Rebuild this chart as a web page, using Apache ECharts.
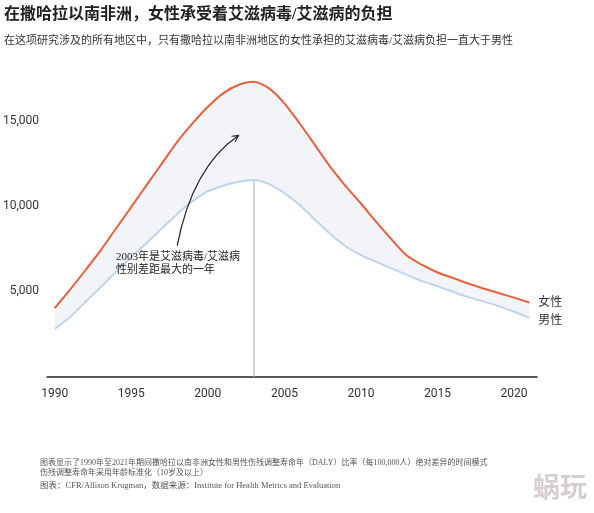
<!DOCTYPE html>
<html>
<head>
<meta charset="utf-8">
<script src="https://cdn.jsdelivr.net/npm/echarts@6/dist/echarts.min.js"></script>
<style>
html,body{margin:0;padding:0;background:#fff;}
#c{width:594px;height:513px;}
</style>
</head>
<body>
<div id="c"></div>
<script>
const years = ['1990','1991','1992','1993','1994','1995','1996','1997','1998','1999','2000','2001','2002','2003','2004','2005','2006','2007','2008','2009','2010','2011','2012','2013','2014','2015','2016','2017','2018','2019','2020','2021'];
const female = [4010,5100,6240,7410,8690,9960,11240,12510,13780,14860,15840,16630,17120,17310,16920,16040,14860,13590,12310,11180,10160,9080,8050,7100,6550,6110,5790,5460,5170,4900,4630,4350];
const male = [2800,3490,4370,5250,6140,7020,7840,8690,9550,10300,10880,11200,11440,11540,11300,10770,10070,9200,8370,7650,7130,6730,6350,5970,5600,5300,4980,4660,4400,4130,3800,3440];
const yTicks = [5000, 10000, 15000];
const peakYear = '2003';

const serif = "'Liberation Serif','DejaVu Serif','Noto Sans CJK SC',serif";
const sans = "Roboto,'Liberation Sans','Noto Sans CJK SC',sans-serif";
const gap = female.map((v, i) => v - male[i]);
const peakIdx = years.indexOf(peakYear);
const sm = 0.25;

const chart = echarts.init(document.getElementById('c'), null, {renderer: 'canvas'});
chart.setOption({
  animation: false,
  backgroundColor: '#fff',
  title: [
    {text: '在撒哈拉以南非洲，女性承受着艾滋病毒/艾滋病的负担', left: 4, top: 7, padding: 0,
     textStyle: {fontFamily: serif, fontSize: 16, lineHeight: 16, fontWeight: 'bold', color: '#222'}},
    {text: '在这项研究涉及的所有地区中，只有撒哈拉以南非洲地区的女性承担的艾滋病毒/艾滋病负担一直大于男性', left: 4, top: 36, padding: 0,
     textStyle: {fontFamily: serif, fontSize: 11, lineHeight: 11, fontWeight: 'normal', color: '#333'}},
    {text: '图表显示了1990年至2021年期间撒哈拉以南非洲女性和男性伤残调整寿命年（DALY）比率（每100,000人）绝对差异的时间模式\n伤残调整寿命年采用年龄标准化（10岁及以上）', left: 40, top: 457.5, padding: 0,
     textStyle: {fontFamily: serif, fontSize: 8, lineHeight: 10, fontWeight: 'normal', color: '#555'}},
    {text: '图表：CFR/Allison Krugman，数据来源：Institute for Health Metrics and Evaluation', left: 40, top: 481.5, padding: 0,
     textStyle: {fontFamily: serif, fontSize: 8.5, lineHeight: 9, fontWeight: 'normal', color: '#555'}},
    {text: '蜗玩', right: 7, top: 477, padding: 0,
     textStyle: {fontFamily: sans, fontSize: 27, lineHeight: 27, fontWeight: 'bold', color: '#d6cfcf'}}
  ],
  grid: {left: 47, right: 57, top: 70, bottom: 136.5, containLabel: false},
  xAxis: {
    type: 'category', data: years, boundaryGap: true,
    axisLine: {show: true, lineStyle: {color: '#222', width: 1.5}},
    axisTick: {show: false},
    axisLabel: {interval: (i, v) => Number(v) % 5 === 0, margin: 11,
      fontFamily: sans, fontSize: 12, color: '#333'}
  },
  yAxis: {
    type: 'value', min: 0, max: 18000, interval: 5000,
    axisLine: {show: false}, axisTick: {show: false}, splitLine: {show: false},
    axisLabel: {showMaxLabel: false, margin: 8, fontFamily: sans, fontSize: 12, color: '#333',
      formatter: v => yTicks.indexOf(v) >= 0 ? String(v).replace(/\B(?=(\d{3})+(?!\d))/g, ',') : ''}
  },
  series: [
    {type: 'line', data: male, stack: 'band', symbol: 'none', smooth: sm, lineStyle: {opacity: 0}, silent: true},
    {type: 'line', data: gap, stack: 'band', symbol: 'none', smooth: sm, lineStyle: {opacity: 0}, silent: true,
     areaStyle: {color: '#f2f4f8', opacity: 1}},
    {type: 'line', name: '女性', data: female, symbol: 'none', z: 5, smooth: sm,
     lineStyle: {color: '#e8603c', width: 2},
     endLabel: {show: true, formatter: '女性', distance: 9, fontFamily: serif, fontSize: 12, color: '#333'},
     markLine: {silent: true, symbol: 'none', z: 3, label: {show: false},
       lineStyle: {color: '#c6c6ca', width: 1.5, type: 'solid'},
       data: [[{coord: [peakIdx, 0]}, {coord: [peakIdx, female[peakIdx]]}]]}},
    {type: 'line', name: '男性', data: male, symbol: 'none', z: 4, smooth: sm,
     lineStyle: {color: '#bdd6ee', width: 2},
     endLabel: {show: true, formatter: '男性', distance: 9, offset: [0, 3], fontFamily: serif, fontSize: 12, color: '#333'}}
  ]
});

// annotation arrow + text, anchored in data space
const P = (i, v) => chart.convertToPixel({xAxisIndex: 0, yAxisIndex: 0}, [i, v]);
const s = P(8.38, 7680), c = P(8.5, 12300), e = P(12.43, 14150);
const ang = Math.atan2(e[1] - c[1], e[0] - c[0]);
const L = 7, sp = 0.5;
const a1 = [e[0] - L * Math.cos(ang - sp), e[1] - L * Math.sin(ang - sp)];
const a2 = [e[0] - L * Math.cos(ang + sp), e[1] - L * Math.sin(ang + sp)];
const tp = P(4.4, 7400);
chart.setOption({
  graphic: [
    {type: 'bezierCurve', z: 10, shape: {x1: s[0], y1: s[1], x2: e[0], y2: e[1], cpx1: c[0], cpy1: c[1]},
     style: {stroke: '#222', lineWidth: 1.2, fill: null}},
    {type: 'polyline', z: 10, shape: {points: [a1, e, a2]}, style: {stroke: '#222', lineWidth: 1.2, fill: null}},
    {type: 'text', z: 10, x: tp[0], y: tp[1],
     style: {text: '2003年是艾滋病毒/艾滋病\n性别差距最大的一年', font: "11px " + serif, lineHeight: 13, fill: '#222'}}
  ]
});
</script>
</body>
</html>
